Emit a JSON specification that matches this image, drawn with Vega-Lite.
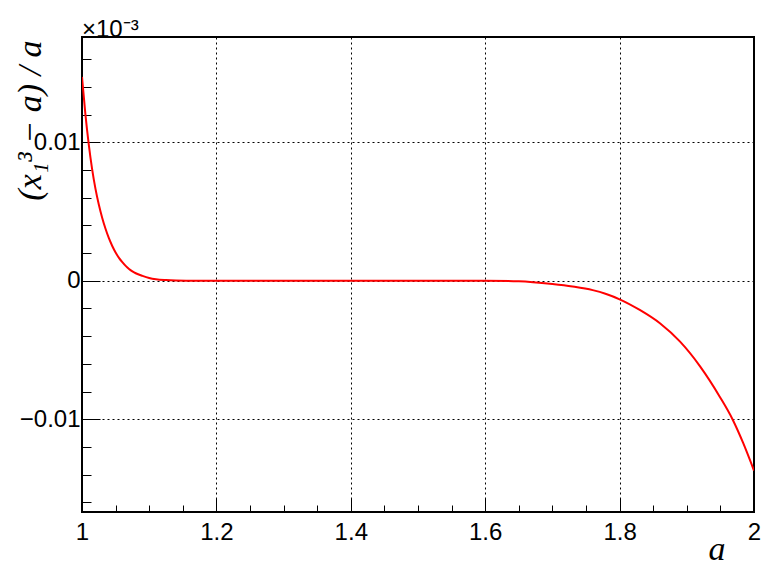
{
  "$schema": "https://vega.github.io/schema/vega-lite/v6.json",
  "width": 672,
  "height": 475,
  "autosize": {"type": "none"},
  "padding": {"left": 82, "top": 37, "right": 10, "bottom": 53},
  "background": "white",
  "title": {
    "text": "×10⁻³",
    "anchor": "start",
    "frame": "group",
    "baseline": "alphabetic",
    "offset": 4,
    "dy": 28,
    "font": "Liberation Sans",
    "fontSize": 24,
    "fontWeight": "normal",
    "color": "black"
  },
  "datasets": {
    "curve": [
      {"a": 1.000, "v": 0.01472},
      {"a": 1.005, "v": 0.01205},
      {"a": 1.010, "v": 0.00987},
      {"a": 1.015, "v": 0.00808},
      {"a": 1.020, "v": 0.00665},
      {"a": 1.025, "v": 0.00550},
      {"a": 1.030, "v": 0.00455},
      {"a": 1.035, "v": 0.00375},
      {"a": 1.040, "v": 0.00307},
      {"a": 1.045, "v": 0.00251},
      {"a": 1.050, "v": 0.00204},
      {"a": 1.055, "v": 0.00165},
      {"a": 1.060, "v": 0.00134},
      {"a": 1.065, "v": 0.00107},
      {"a": 1.070, "v": 0.00085},
      {"a": 1.075, "v": 0.00068},
      {"a": 1.080, "v": 0.00054},
      {"a": 1.090, "v": 0.00035},
      {"a": 1.100, "v": 0.00020},
      {"a": 1.110, "v": 0.00011},
      {"a": 1.125, "v": 0.00005},
      {"a": 1.140, "v": 0.00002},
      {"a": 1.170, "v": 0.0},
      {"a": 1.300, "v": 0.0},
      {"a": 1.400, "v": 0.0},
      {"a": 1.500, "v": 0.0},
      {"a": 1.600, "v": 0.0},
      {"a": 1.650, "v": -0.00004},
      {"a": 1.700, "v": -0.00024},
      {"a": 1.730, "v": -0.00042},
      {"a": 1.760, "v": -0.00068},
      {"a": 1.780, "v": -0.00096},
      {"a": 1.800, "v": -0.00134},
      {"a": 1.830, "v": -0.00211},
      {"a": 1.860, "v": -0.00307},
      {"a": 1.890, "v": -0.00440},
      {"a": 1.920, "v": -0.00620},
      {"a": 1.949, "v": -0.00837},
      {"a": 1.968, "v": -0.01000},
      {"a": 1.984, "v": -0.01173},
      {"a": 2.000, "v": -0.01371}
    ]
  },
  "data": {"name": "curve"},
  "layer": [
    {
      "mark": {"type": "line", "strokeOpacity": 0, "clip": true},
      "encoding": {
        "x": {
          "field": "a", "type": "quantitative",
          "scale": {"domain": [1, 2], "nice": false, "zero": false},
          "axis": {
            "orient": "bottom",
            "values": [1.05, 1.1, 1.15, 1.25, 1.3, 1.35, 1.45, 1.5, 1.55, 1.65, 1.7, 1.75, 1.85, 1.9, 1.95],
            "tickSize": -7, "tickColor": "black", "tickWidth": 1,
            "labels": false, "grid": false, "domain": false, "title": null
          }
        },
        "y": {
          "field": "v", "type": "quantitative",
          "scale": {"domain": [-0.0167, 0.0176], "nice": false, "zero": false},
          "axis": {
            "orient": "left",
            "values": [-0.016, -0.014, -0.012, -0.008, -0.006, -0.004, -0.002, 0.002, 0.004, 0.006, 0.008, 0.012, 0.014, 0.016],
            "tickSize": -9, "tickColor": "black", "tickWidth": 1,
            "labels": false, "grid": false, "domain": false, "title": null
          }
        }
      }
    },
    {
      "mark": {"type": "line", "color": "#ff0000", "strokeWidth": 2, "interpolate": "monotone", "clip": true},
      "encoding": {
        "x": {
          "field": "a", "type": "quantitative",
          "axis": {
            "orient": "bottom",
            "values": [1, 1.2, 1.4, 1.6, 1.8, 2],
            "format": "~g",
            "tickSize": -14, "tickColor": "black", "tickWidth": 1,
            "grid": true, "gridColor": "black", "gridDash": [2, 3], "gridWidth": 1, "gridOpacity": 1,
            "domain": false,
            "labelFont": "Liberation Sans", "labelFontSize": 24, "labelColor": "black",
            "labelPadding": 22, "labelFlush": false, "labelOverlap": false, "labelBound": false,
            "title": "a",
            "titleFont": "Liberation Serif", "titleFontStyle": "italic", "titleFontWeight": "normal",
            "titleFontSize": 34, "titleColor": "black",
            "titleAlign": "right", "titleBaseline": "alphabetic",
            "titleX": 643, "titleY": 47
          }
        },
        "y": {
          "field": "v", "type": "quantitative",
          "axis": {
            "orient": "left",
            "values": [-0.01, 0, 0.01],
            "format": ".2~f",
            "tickSize": -18, "tickColor": "black", "tickWidth": 1,
            "grid": true, "gridColor": "black", "gridDash": [2, 3], "gridWidth": 1, "gridOpacity": 1,
            "domain": false,
            "labelFont": "Liberation Sans", "labelFontSize": 24, "labelColor": "black",
            "labelPadding": 20, "labelOverlap": false, "labelBound": false,
            "title": "(x₁³ − a) / a",
            "titleFont": "Liberation Serif", "titleFontStyle": "italic", "titleFontWeight": "normal",
            "titleFontSize": 34, "titleColor": "black",
            "titleAngle": 270, "titleAlign": "right", "titleBaseline": "alphabetic",
            "titleX": -42, "titleY": 3
          }
        }
      }
    }
  ],
  "resolve": {"axis": {"x": "independent", "y": "independent"}},
  "config": {
    "view": {"stroke": "black", "strokeWidth": 2}
  }
}
